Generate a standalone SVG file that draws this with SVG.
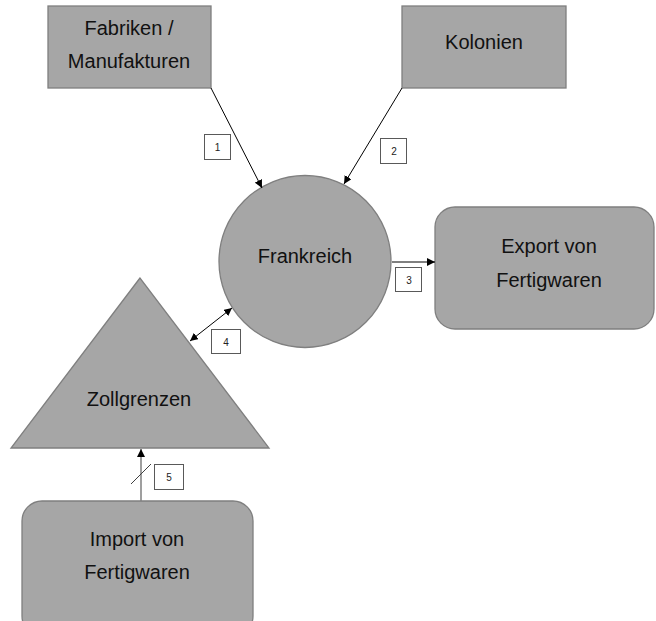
<svg xmlns="http://www.w3.org/2000/svg" width="656" height="621" viewBox="0 0 656 621">
<defs>
<marker id="ah" viewBox="0 0 10 10" refX="10" refY="5" markerWidth="8" markerHeight="8" markerUnits="userSpaceOnUse" orient="auto-start-reverse">
<path d="M0,0 L10,5 L0,10 z" fill="#000"/>
</marker>
</defs>
<style>
.shape{fill:#a6a6a6;stroke:#7f7f7f;stroke-width:1.3}
.t{font-family:"Liberation Sans",Arial,sans-serif;font-size:20px;fill:#111;text-anchor:middle}
.lb{fill:#fff;stroke:#595959;stroke-width:1}
.lt{font-family:"Liberation Sans",Arial,sans-serif;font-size:10px;fill:#222;text-anchor:middle}
.c{stroke:#000;stroke-width:1;fill:none}
</style>
<rect width="656" height="621" fill="#fff"/>
<g id="fabriken">
<rect class="shape" x="48" y="6" width="163" height="82"/>
<text class="t" x="129" y="35">Fabriken /</text>
<text class="t" x="129" y="68">Manufakturen</text>
</g>
<g id="kolonien">
<rect class="shape" x="402" y="6" width="164" height="82"/>
<text class="t" x="484" y="49">Kolonien</text>
</g>
<g id="frankreich">
<circle class="shape" cx="305" cy="261.5" r="86"/>
<text class="t" x="305" y="263">Frankreich</text>
</g>
<g id="export">
<rect class="shape" x="435" y="207" width="219" height="122" rx="20"/>
<text class="t" x="549" y="253">Export von</text>
<text class="t" x="549" y="287">Fertigwaren</text>
</g>
<g id="zollgrenzen">
<polygon class="shape" points="140,278 11,448 269,448"/>
<text class="t" x="139" y="406">Zollgrenzen</text>
</g>
<g id="import">
<rect class="shape" x="22" y="501" width="231" height="135" rx="20"/>
<text class="t" x="137" y="546">Import von</text>
<text class="t" x="137" y="579">Fertigwaren</text>
</g>
<g id="connectors">
<line class="c" x1="211" y1="88" x2="262" y2="188" marker-end="url(#ah)"/>
<line class="c" x1="402" y1="88" x2="344" y2="184" marker-end="url(#ah)"/>
<line class="c" x1="392" y1="262" x2="435" y2="262" marker-end="url(#ah)"/>
<line class="c" x1="190" y1="341" x2="232" y2="308" marker-start="url(#ah)" marker-end="url(#ah)"/>
<line x1="141" y1="501" x2="141" y2="449" stroke="#7f7f7f" stroke-width="1.5" marker-end="url(#ah)"/>
<line x1="131" y1="484" x2="151" y2="464" stroke="#404040" stroke-width="1"/>
</g>
<g id="labels">
<rect class="lb" x="204.5" y="134.5" width="26" height="25"/>
<text class="lt" x="217.5" y="151">1</text>
<rect class="lb" x="380.5" y="138.5" width="26" height="25"/>
<text class="lt" x="394" y="155">2</text>
<rect class="lb" x="395.5" y="267.5" width="26" height="24"/>
<text class="lt" x="409" y="283.5">3</text>
<rect class="lb" x="211.5" y="329.5" width="29" height="24"/>
<text class="lt" x="226" y="345.5">4</text>
<rect class="lb" x="154.5" y="464.5" width="29" height="25"/>
<text class="lt" x="169" y="481">5</text>
</g>
</svg>
